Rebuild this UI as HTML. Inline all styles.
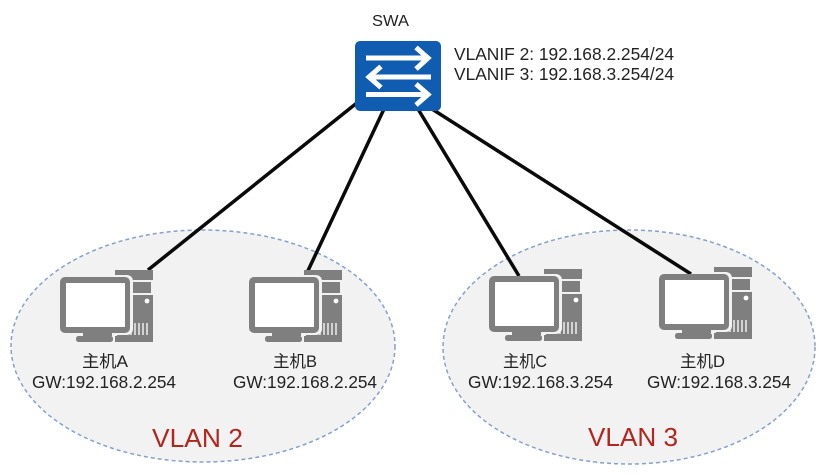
<!DOCTYPE html>
<html><head><meta charset="utf-8"><style>
html,body{margin:0;padding:0;background:#fff;width:824px;height:475px;overflow:hidden}
svg{display:block;filter:blur(.35px)}
text{font-family:"Liberation Sans","Noto Sans CJK SC",sans-serif;fill:#222}
</style></head><body>
<svg width="824" height="475" viewBox="0 0 824 475" xmlns="http://www.w3.org/2000/svg">
<defs>
<g id="pc">
  <path fill="#7f7f7f" d="M55 0H93V72H55V66H57V7H55Z"/>
  <rect x="57" y="10" width="36" height="15" fill="#fff" opacity=".9"/>
  <rect x="59" y="12" width="32" height="11" fill="#7f7f7f"/>
  <circle cx="87" cy="31" r="2.400" fill="#fff"/>
  <path stroke="#fff" stroke-width="1.300" d="M71 65V55M75 65V53M79 65V53M83 65V53M87 65V53" fill="none"/>
  <rect x="50" y="5" width="23" height="60" rx="6" fill="#f2f2f2"/>
  <rect x="0" y="7" width="70" height="56" rx="5" fill="#7f7f7f"/>
  <rect x="6" y="13" width="59" height="44" fill="#fff"/>
  <rect x="23" y="63" width="29" height="3" fill="#7f7f7f"/>
  <rect x="16" y="66" width="37" height="6" rx="2.500" fill="#7f7f7f"/>
</g>
</defs>
<ellipse cx="203" cy="346" rx="192" ry="116" fill="#f2f2f2" stroke="#86a1c8" stroke-width="1.500" stroke-dasharray="4 3"/>
<ellipse cx="629" cy="347" rx="186" ry="117" fill="#f2f2f2" stroke="#86a1c8" stroke-width="1.500" stroke-dasharray="4 3"/>
<g stroke="#0a0a0a" stroke-width="3.500" fill="none">
  <line x1="148" y1="270" x2="358" y2="102"/>
  <line x1="305" y1="277" x2="384" y2="109"/>
  <line x1="519" y1="276" x2="418" y2="109"/>
  <line x1="691" y1="274" x2="432" y2="109"/>
</g>
<use href="#pc" x="60" y="270"/>
<use href="#pc" x="249" y="270"/>
<use href="#pc" x="489" y="269"/>
<use href="#pc" x="659" y="267"/>
<rect x="355" y="41" width="86" height="70" rx="5" fill="#0f5cb0"/>
<g stroke="#fff" stroke-width="5" fill="none">
  <path d="M366 58H428"/><path d="M416 47.500L428 58L416 69" stroke-width="5"/>
  <path d="M431 77H369"/><path d="M381 66.500L369 77L381 87.500" stroke-width="5"/>
  <path d="M366 94.500H428"/><path d="M416 84L428 94.500L416 105" stroke-width="5"/>
</g>
<text x="372" y="26" font-size="16" textLength="37" lengthAdjust="spacingAndGlyphs">SWA</text>
<text x="454" y="60" font-size="17.500" textLength="220" lengthAdjust="spacingAndGlyphs">VLANIF 2: 192.168.2.254/24</text>
<text x="454" y="80" font-size="17.500" textLength="220" lengthAdjust="spacingAndGlyphs">VLANIF 3: 192.168.3.254/24</text>
<g font-size="17.500">
<text x="82" y="367" font-size="16.500" textLength="46" lengthAdjust="spacingAndGlyphs">主机A</text>
<text x="32" y="388" textLength="144" lengthAdjust="spacingAndGlyphs">GW:192.168.2.254</text>
<text x="273" y="367" font-size="16.500" textLength="44" lengthAdjust="spacingAndGlyphs">主机B</text>
<text x="233" y="388" textLength="144" lengthAdjust="spacingAndGlyphs">GW:192.168.2.254</text>
<text x="503" y="367" font-size="16.500" textLength="44" lengthAdjust="spacingAndGlyphs">主机C</text>
<text x="468" y="388" textLength="145" lengthAdjust="spacingAndGlyphs">GW:192.168.3.254</text>
<text x="680" y="367" font-size="16.500" textLength="45" lengthAdjust="spacingAndGlyphs">主机D</text>
<text x="647" y="388" textLength="144" lengthAdjust="spacingAndGlyphs">GW:192.168.3.254</text>
</g>
<text x="152" y="447" font-size="26" style="fill:#b3261e" textLength="91" lengthAdjust="spacingAndGlyphs">VLAN 2</text>
<text x="588" y="446" font-size="26" style="fill:#b3261e" textLength="90" lengthAdjust="spacingAndGlyphs">VLAN 3</text>
</svg>
</body></html>
